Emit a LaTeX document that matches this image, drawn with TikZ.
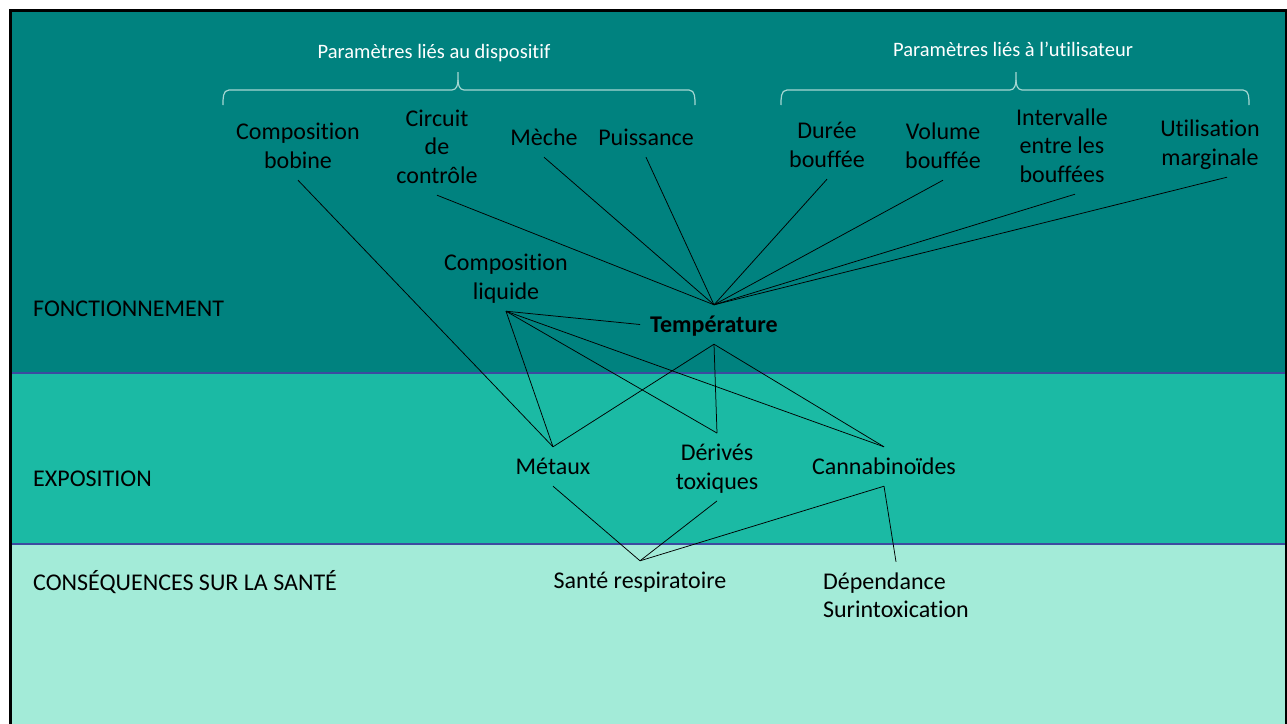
\documentclass[tikz,border=0pt]{standalone}
\usepackage{fontspec}
\setmainfont{Carlito}[Ligatures={NoCommon,NoContextual}]

\definecolor{darkteal}{RGB}{0,130,127}
\definecolor{midteal}{RGB}{27,186,164}
\definecolor{paleteal}{RGB}{163,235,216}
\definecolor{sepblue}{RGB}{60,75,160}
\definecolor{bracegray}{RGB}{165,215,210}

% one line of label text
\newcommand{\ls}{\rule[-6.5pt]{0pt}{28.5pt}}

\tikzset{
  lbl/.style={font=\fontsize{24}{28.5}\selectfont, align=center, inner xsep=10pt, inner ysep=5.25pt},
  side/.style={font=\fontsize{24}{28.5}\selectfont, inner sep=0pt, anchor=base west},
  grp/.style={font=\fontsize{20.5}{24}\selectfont, text=white, inner sep=0pt, anchor=base},
  conn/.style={black, line width=0.75pt},
  brace/.style={bracegray, line width=1.2pt},
  sep/.style={sepblue, line width=1.2pt}
}

\begin{document}
\begin{tikzpicture}[x=1pt,y=-1pt]
  \useasboundingbox (0,0) rectangle (1287,723);
  % bands
  \fill[darkteal] (10,10) rectangle (1286,373);
  \fill[midteal] (10,373) rectangle (1286,544);
  \fill[paleteal] (10,544) rectangle (1286,730);
  \draw[sep] (11,373) -- (1285,373);
  \draw[sep] (11,544) -- (1285,544);
  \draw[line width=3pt] (10,10.5) rectangle (1286.5,740);

  % row names
  \node[side] (fonct) at (33,316) {FONCTIONNEMENT};
  \node[side] (expo) at (33,486.5) {EXPOSITION};
  \node[side] (csq) at (33,590) {CONSÉQUENCES SUR LA SANTÉ};

  % groups of parameters
  \node[grp] (dispo) at (434,58) {Paramètres liés au dispositif};
  \node[grp] (utili) at (1013,56) {Paramètres liés à l’utilisateur};
  \draw[brace] (223,105) to[out=90,in=180] (229,90) -- (452,90) to[out=0,in=-90] (458,80) -- (458,72);
  \draw[brace] (458,80) to[out=-90,in=180] (464,90) -- (689,90) to[out=0,in=90] (695,105);
  \draw[brace] (781,105) to[out=90,in=180] (787,90) -- (1010,90) to[out=0,in=-90] (1016,80) -- (1016,72);
  \draw[brace] (1016,80) to[out=-90,in=180] (1022,90) -- (1243,90) to[out=0,in=90] (1249,105);

  % parameters
  \node[lbl] (bobine) at (298,146.25) {Composition\ls\\bobine\ls};
  \node[lbl] (circuit) at (437,147) {Circuit\ls\\de\ls\\contrôle\ls};
  \node[lbl] (meche) at (544,137.5) {Mèche\ls};
  \node[lbl] (puiss) at (646,137.5) {Puissance\ls};
  \node[lbl] (duree) at (827,145.25) {Durée\ls\\bouffée\ls};
  \node[lbl] (volume) at (943,146.25) {Volume\ls\\bouffée\ls};
  \node[lbl] (interv) at (1062,146) {Intervalle\ls\\entre les\ls\\bouffées\ls};
  \node[lbl] (utilis) at (1210,143.25) {Utilisation\ls\\marginale\ls};
  \node[lbl] (liquide) at (506,277.25) {Composition\ls\\liquide\ls};
  \node[lbl] (temp) at (714,324.5) {\textbf{Température}\ls};

  % exposure
  \node[lbl] (metaux) at (553,466.5) {Métaux\ls};
  \node[lbl] (derives) at (717,467) {Dérivés\ls\\toxiques\ls};
  \node[lbl] (canna) at (884,466.5) {Cannabinoïdes\ls};

  % health
  \node[lbl] (sante) at (640,580.5) {Santé respiratoire\ls};
  \node[lbl, align=left] (depend) at (896,595.75) {Dépendance\ls\\Surintoxication\ls};

  % links
  \foreach \n in {circuit,meche,puiss,duree,volume}
    \draw[conn] (\n.south) -- (temp.north);
  \draw[conn] ([xshift=13pt]interv.south) -- (temp.north);
  \draw[conn] ([xshift=17pt]utilis.south) -- (temp.north);
  \draw[conn] (bobine.south) -- (metaux.north);
  \draw[conn] (liquide.south) -- (temp.west);
  \foreach \n in {metaux,derives,canna} {
    \draw[conn] (liquide.south) -- (\n.north);
    \draw[conn] (temp.south) -- (\n.north);
    \draw[conn] (\n.south) -- (sante.north);
  }
  \draw[conn] (canna.south) -- (depend.north);
\end{tikzpicture}
\end{document}
